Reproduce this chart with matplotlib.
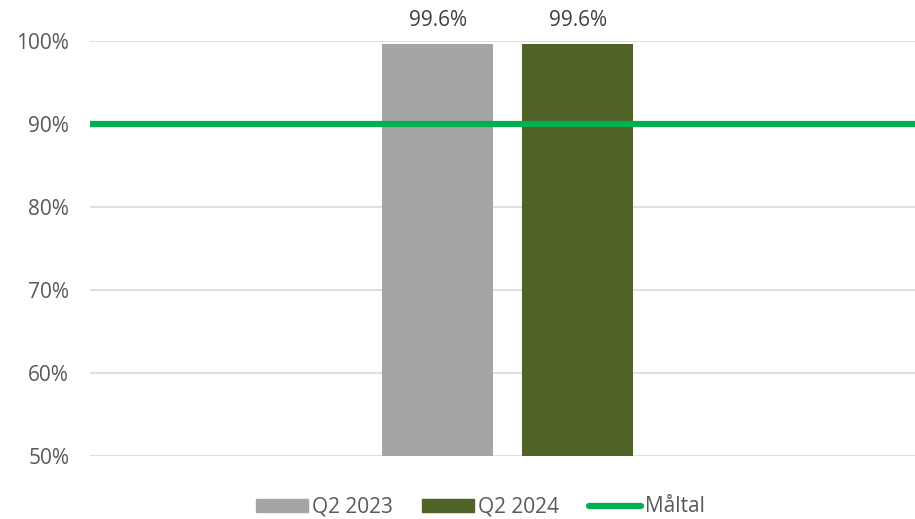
import matplotlib
matplotlib.use('Agg')
import matplotlib.pyplot as plt
from matplotlib.patches import Patch
from matplotlib.lines import Line2D

plt.rcParams['font.family'] = ['Open Sans', 'DejaVu Sans']

series = ['Q2 2023', 'Q2 2024']
values = [99.6, 99.6]
colors = ['#A5A5A5', '#4F6228']
target = 90
target_label = 'Måltal'

fig = plt.figure(figsize=(9.15, 5.19), dpi=100)
ax = fig.add_axes([90/915, 63/519, 825/915, 415/519])

centers = [0.4215, 0.591]
width = 0.1345
bars = ax.bar(centers, [v - 50 for v in values], width=width, bottom=50,
              color=colors, zorder=2)
for b, v in zip(bars, values):
    ax.text(b.get_x() + b.get_width()/2, v + 1.6, f'{v:.1f}%',
            ha='center', va='bottom', fontsize=15, color='#404040')

ax.plot([0, 1], [target, target], color='#00B050', lw=4.5, zorder=3)

ax.set_xlim(0, 1)
ax.set_ylim(50, 100)
ax.set_yticks(range(50, 101, 10))
ax.set_yticklabels([f'{t}%' for t in range(50, 101, 10)], fontsize=15, color='#595959')
ax.set_xticks([])
ax.grid(axis='y', color='#D9D9D9', lw=1.2, zorder=0)
ax.tick_params(axis='y', length=0, pad=15)
for s in ax.spines.values():
    s.set_visible(False)

handles = [Patch(color=colors[0]), Patch(color=colors[1]),
           Line2D([], [], color='#00B050', lw=4.5, solid_capstyle='round')]
fig.legend(handles, series + [target_label], loc='center', bbox_to_anchor=(0.525, 12/519),
           ncol=3, frameon=False, fontsize=15, handlelength=2.5, handleheight=0.6,
           handletextpad=0.2, columnspacing=1.4, labelcolor='#595959')

fig.savefig('out.png', dpi=100)
